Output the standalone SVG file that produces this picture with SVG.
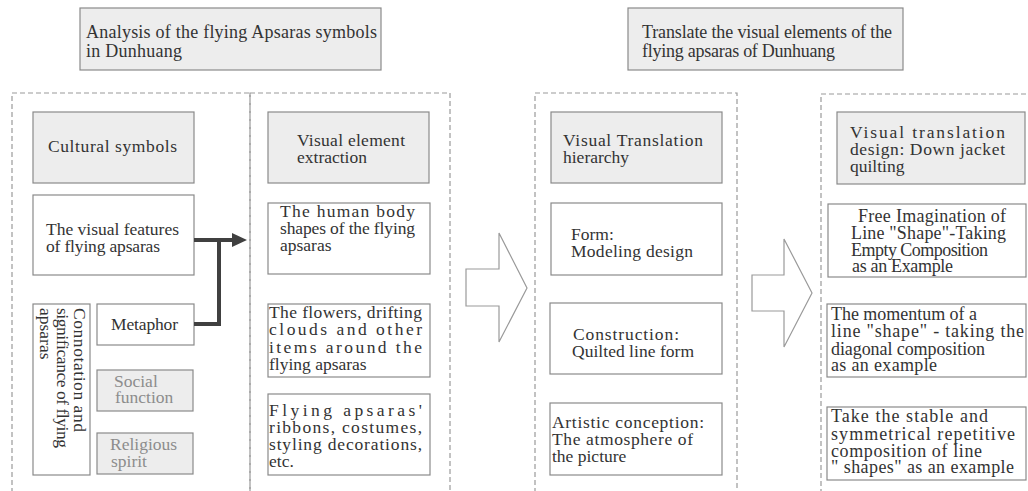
<svg xmlns="http://www.w3.org/2000/svg" width="1028" height="491" viewBox="0 0 1028 491" font-family="'Liberation Serif', 'Times New Roman', serif">
<style>
text{font-family:'Liberation Serif','Times New Roman',serif;font-size:17.5px;fill:#333}
.title{font-size:18px}
.r{font-size:18px}
.gray{fill:#8c8c8c}
.box{fill:#fff;stroke:#8a8a8a;stroke-width:1.2}
.hbox{fill:#ededed;stroke:#8a8a8a;stroke-width:1.2}
.dash{fill:none;stroke:#9a9a9a;stroke-width:1.2;stroke-dasharray:5,3}
.big{fill:#fff;stroke:#9a9a9a;stroke-width:1.2}
.conn{fill:none;stroke:#404040;stroke-width:4}
.head{fill:#404040}
</style>
<rect width="1028" height="491" fill="#fff"/>
<g id="frames">
<rect class="dash" x="12" y="93" width="238" height="430"/>
<rect class="dash" x="250" y="93" width="200" height="430"/>
<rect class="dash" x="535" y="93" width="202" height="430"/>
<rect class="dash" x="821" y="94" width="230" height="430"/>
</g>
<g id="title1"><rect class="hbox" x="80" y="8" width="301" height="62"/>
<text class="title" x="86" y="38" textLength="291" lengthAdjust="spacing">Analysis of the flying Apsaras symbols</text>
<text class="title" x="86" y="57" textLength="96" lengthAdjust="spacing">in Dunhuang</text></g>
<g id="title2"><rect class="hbox" x="628" y="8" width="275" height="62"/>
<text class="title" x="642" y="38" textLength="250" lengthAdjust="spacing">Translate the visual elements of the</text>
<text class="title" x="642" y="57" textLength="193" lengthAdjust="spacing">flying apsaras of Dunhuang</text></g>
<g id="cultural"><rect class="hbox" x="33" y="112" width="161" height="71"/>
<text x="48" y="152" textLength="129" lengthAdjust="spacing">Cultural symbols</text></g>
<g id="features"><rect class="box" x="33" y="195" width="161" height="80"/>
<text x="46" y="235" textLength="133" lengthAdjust="spacing">The visual features</text>
<text x="46" y="252" textLength="114" lengthAdjust="spacing">of flying apsaras</text></g>
<g id="connotation"><rect class="box" x="33" y="304" width="57" height="171"/>
<text transform="translate(74,308) rotate(90)"><tspan x="0" y="0" textLength="124" lengthAdjust="spacing">Connotation and</tspan><tspan x="0" y="17" textLength="140" lengthAdjust="spacing">significance of flying</tspan><tspan x="0" y="34">apsaras</tspan></text></g>
<g id="metaphor"><rect class="box" x="97" y="304" width="97" height="41"/>
<text x="111" y="330" textLength="67" lengthAdjust="spacing">Metaphor</text></g>
<g id="social"><rect class="hbox" x="97" y="370" width="96" height="41"/>
<text class="gray" x="114" y="387">Social</text>
<text class="gray" x="115" y="403">function</text></g>
<g id="religious"><rect class="hbox" x="97" y="433" width="96" height="41"/>
<text class="gray" x="110" y="450">Religious</text>
<text class="gray" x="111" y="467">spirit</text></g>
<g id="extraction"><rect class="hbox" x="268" y="112" width="161" height="71"/>
<text x="297" y="146" textLength="108" lengthAdjust="spacing">Visual element</text>
<text x="297" y="163">extraction</text></g>
<g id="body"><rect class="box" x="268" y="203" width="162" height="71"/>
<text x="280" y="217" textLength="135" lengthAdjust="spacing">The human body</text>
<text x="280" y="234" textLength="135" lengthAdjust="spacing">shapes of the flying</text>
<text x="280" y="251">apsaras</text></g>
<g id="flowers"><rect class="box" x="268" y="304" width="162" height="73"/>
<text x="269" y="318" textLength="153" lengthAdjust="spacing">The flowers, drifting</text>
<text x="269" y="335" textLength="153" lengthAdjust="spacing">clouds and other</text>
<text x="269" y="353" textLength="153" lengthAdjust="spacing">items around the</text>
<text x="269" y="370">flying apsaras</text></g>
<g id="ribbons"><rect class="box" x="268" y="394" width="162" height="81"/>
<text x="269" y="416" textLength="153" lengthAdjust="spacing">Flying apsaras'</text>
<text x="269" y="433" textLength="153" lengthAdjust="spacing">ribbons, costumes,</text>
<text x="269" y="450" textLength="153" lengthAdjust="spacing">styling decorations,</text>
<text x="269" y="467">etc.</text></g>
<g id="hierarchy"><rect class="hbox" x="551" y="112" width="171" height="71"/>
<text x="563" y="146" textLength="140" lengthAdjust="spacing">Visual Translation</text>
<text x="563" y="163">hierarchy</text></g>
<g id="form"><rect class="box" x="551" y="203" width="171" height="72"/>
<text x="571" y="240">Form:</text>
<text x="571" y="257" textLength="122" lengthAdjust="spacing">Modeling design</text></g>
<g id="construction"><rect class="box" x="550" y="303" width="172" height="71"/>
<text x="573" y="340" textLength="106" lengthAdjust="spacing">Construction:</text>
<text x="572" y="357" textLength="122" lengthAdjust="spacing">Quilted line form</text></g>
<g id="artistic"><rect class="box" x="550" y="403" width="172" height="72"/>
<text x="552" y="428" textLength="152" lengthAdjust="spacing">Artistic conception:</text>
<text x="552" y="445" textLength="141" lengthAdjust="spacing">The atmosphere of</text>
<text x="552" y="462">the picture</text></g>
<g id="design"><rect class="hbox" x="837" y="112" width="188" height="72"/>
<text x="850" y="138" textLength="155" lengthAdjust="spacing">Visual  translation</text>
<text x="850" y="155" textLength="155" lengthAdjust="spacing">design: Down jacket</text>
<text x="850" y="172">quilting</text></g>
<g id="free"><rect class="box" x="828" y="204" width="198" height="73"/>
<text class="r" x="858" y="222" textLength="148" lengthAdjust="spacing">Free Imagination of</text>
<text class="r" x="851" y="239" textLength="155" lengthAdjust="spacing">Line "Shape"-Taking</text>
<text class="r" x="851" y="256" textLength="137" lengthAdjust="spacing">Empty Composition</text>
<text class="r" x="852" y="272" textLength="101" lengthAdjust="spacing">as an Example</text></g>
<g id="momentum"><rect class="box" x="827" y="304" width="199" height="73"/>
<text class="r" x="831" y="320" textLength="146" lengthAdjust="spacing">The momentum of a</text>
<text class="r" x="831" y="337" textLength="193" lengthAdjust="spacing">line "shape" - taking the</text>
<text class="r" x="831" y="355" textLength="154" lengthAdjust="spacing">diagonal composition</text>
<text class="r" x="831" y="371" textLength="106" lengthAdjust="spacing">as an example</text></g>
<g id="stable"><rect class="box" x="827" y="407" width="199" height="73"/>
<text class="r" x="831" y="422" textLength="157" lengthAdjust="spacing">Take the stable and</text>
<text class="r" x="831" y="440" textLength="184" lengthAdjust="spacing">symmetrical repetitive</text>
<text class="r" x="831" y="457" textLength="151" lengthAdjust="spacing">composition of line</text>
<text class="r" x="831" y="473" textLength="183" lengthAdjust="spacing">" shapes" as an example</text></g>
<g id="connectors">
<path class="conn" d="M194,240 H233"/>
<path class="head" d="M232,233 L247,240 L232,247 Z"/>
<path class="conn" d="M194,324 H219 V240"/>
<path class="big" d="M466,269 H499 V233 L527,288 L499,342 V306 H466 Z"/>
<path class="big" d="M752,275 H784 V239 L812,293 L784,347 V311 H752 Z"/>
</g>
</svg>
